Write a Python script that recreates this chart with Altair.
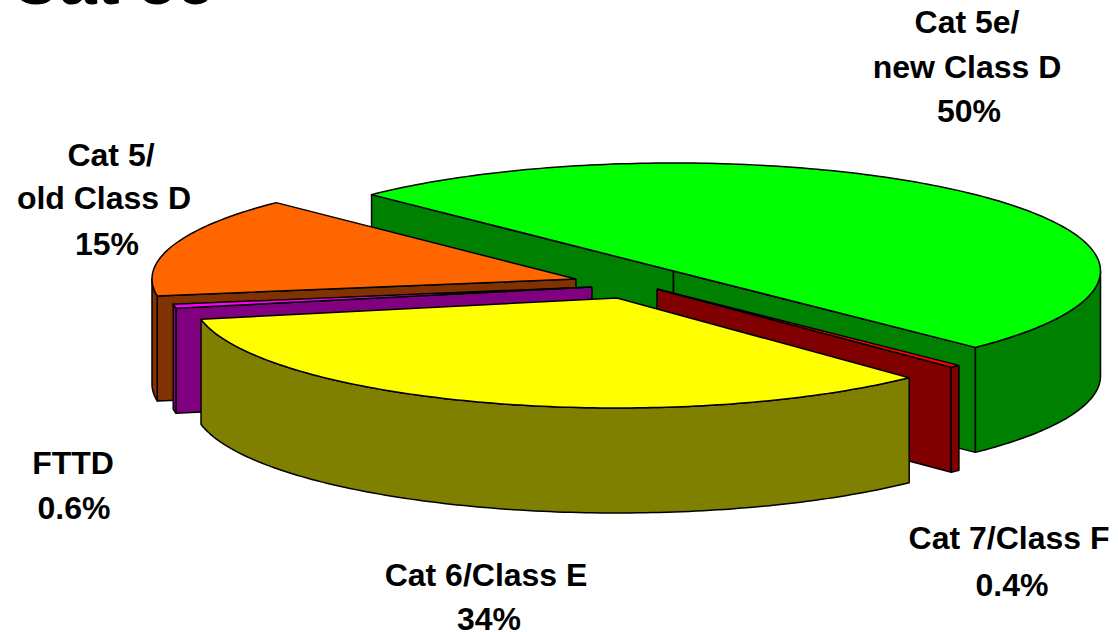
import math
import altair as alt
import pandas as pd

# Cabling share by category, in pie order starting from the back-left edge.
categories = ["Cat 5e/new Class D", "Cat 7/Class F", "Cat 6/Class E", "FTTD", "Cat 5/old Class D"]
shares = [50, 0.4, 34, 0.6, 15]
top_colors = ["#00FF00", "#FF0000", "#FFFF00", "#FF00FF", "#FF6600"]
side_colors = ["#008000", "#800000", "#808000", "#800080", "#803300"]

# Exploded slice geometry: centre x, centre y, radius x, radius y.
slice_geometry = {
    "Cat 5e/new Class D": (673.5, 271, 427, 108),
    "Cat 7/Class F": (657, 289, 427, 108),
    "Cat 6/Class E": (617, 298, 424, 110),
    "FTTD": (592, 287, 424, 110),
    "Cat 5/old Class D": (576, 279, 424, 108),
}
DEPTH = 105
START_ANGLE = 225

label_lines = ["Cat 5e/", "new Class D", "50%", "Cat 5/", "old Class D", "15%", "FTTD", "0.6%",
               "Cat 6/Class E", "34%", "Cat 7/Class F", "0.4%"]
label_x = [967, 967, 969, 111, 104, 107, 73, 74, 486, 489, 1009, 1012]
label_y = [33, 78, 122, 166, 209, 255, 474, 519, 586, 630, 549, 596]

x_scale = alt.Scale(domain=[0, 1118], range=[0, 1118], nice=False, zero=False)
y_scale = alt.Scale(domain=[0, 632], range=[0, 632], nice=False, zero=False)


def rim(name, a, b, lift=0):
    cx, cy, rx, ry = slice_geometry[name]
    steps = max(2, int(abs(b - a)) + 1)
    pts = []
    for i in range(steps + 1):
        t = math.radians(a + (b - a) * i / steps)
        pts.append((cx + rx * math.cos(t), cy + ry * math.sin(t) + lift))
    return pts


def polygon(points, fill):
    closed = list(points) + [points[0]]
    frame = pd.DataFrame({"x": [p[0] for p in closed], "y": [p[1] for p in closed], "i": range(len(closed))})
    return alt.Chart(frame).mark_line(
        fill=fill, stroke="black", strokeWidth=1.5, strokeJoin="round", interpolate="linear"
    ).encode(
        x=alt.X("x:Q", scale=x_scale, axis=None),
        y=alt.Y("y:Q", scale=y_scale, axis=None),
        order="i:Q",
    )


# Angular extent of each slice, derived from the shares.
spans = {}
angle = START_ANGLE - 360
for name, share in zip(categories, shares):
    spans[name] = (angle, angle + share * 3.6)
    angle += share * 3.6


def cut_face(name, t):
    cx, cy, _, _ = slice_geometry[name]
    edge = rim(name, t, t)[0]
    return [(cx, cy), edge, (edge[0], edge[1] + DEPTH), (cx, cy + DEPTH)]


def outer_wall(name, a, b):
    return rim(name, a, b) + rim(name, b, a, DEPTH)


def top_face(name):
    a, b = spans[name]
    cx, cy, _, _ = slice_geometry[name]
    return [(cx, cy)] + rim(name, a, b)


colors = dict(zip(categories, zip(top_colors, side_colors)))
layers = []

# Painted back to front so nearer slices cover farther ones.
n = categories[0]
a, b = spans[n]
layers += [
    polygon(cut_face(n, a), colors[n][1]),
    polygon(cut_face(n, b), colors[n][1]),
    polygon(outer_wall(n, 0, b), colors[n][1]),
    polygon(top_face(n), colors[n][0]),
]

n = categories[4]
a, b = spans[n]
layers += [polygon(cut_face(n, a), colors[n][1]), polygon(outer_wall(n, a, 180), colors[n][1]), polygon(top_face(n), colors[n][0])]

n = categories[3]
a, b = spans[n]
layers += [polygon(cut_face(n, a), colors[n][1]), polygon(outer_wall(n, a, b), colors[n][1]), polygon(top_face(n), colors[n][0])]

n = categories[1]
a, b = spans[n]
layers += [polygon(cut_face(n, b), colors[n][1]), polygon(outer_wall(n, a, b), colors[n][1]), polygon(top_face(n), colors[n][0])]

n = categories[2]
a, b = spans[n]
layers += [polygon(outer_wall(n, a, b), colors[n][1]), polygon(top_face(n), colors[n][0])]

labels = alt.Chart(pd.DataFrame({"t": label_lines, "x": label_x, "y": label_y})).mark_text(
    font="Liberation Sans", fontSize=32, fontWeight="bold", color="black", align="center", baseline="alphabetic"
).encode(
    x=alt.X("x:Q", scale=x_scale, axis=None),
    y=alt.Y("y:Q", scale=y_scale, axis=None),
    text="t:N",
)

heading = alt.Chart(pd.DataFrame({"t": ["Cat 5e"], "x": [10], "y": [4]})).mark_text(
    font="Liberation Sans", fontSize=68, fontWeight="bold", color="black", align="left", baseline="alphabetic"
).encode(
    x=alt.X("x:Q", scale=x_scale, axis=None),
    y=alt.Y("y:Q", scale=y_scale, axis=None),
    text="t:N",
)

chart = alt.layer(*layers, labels, heading).properties(
    width=1118, height=632, padding=0, autosize=alt.AutoSizeParams(type="none"), background="white"
).configure_view(stroke=None)

chart.save("out.html", embed_options={"renderer": "svg", "actions": False})
